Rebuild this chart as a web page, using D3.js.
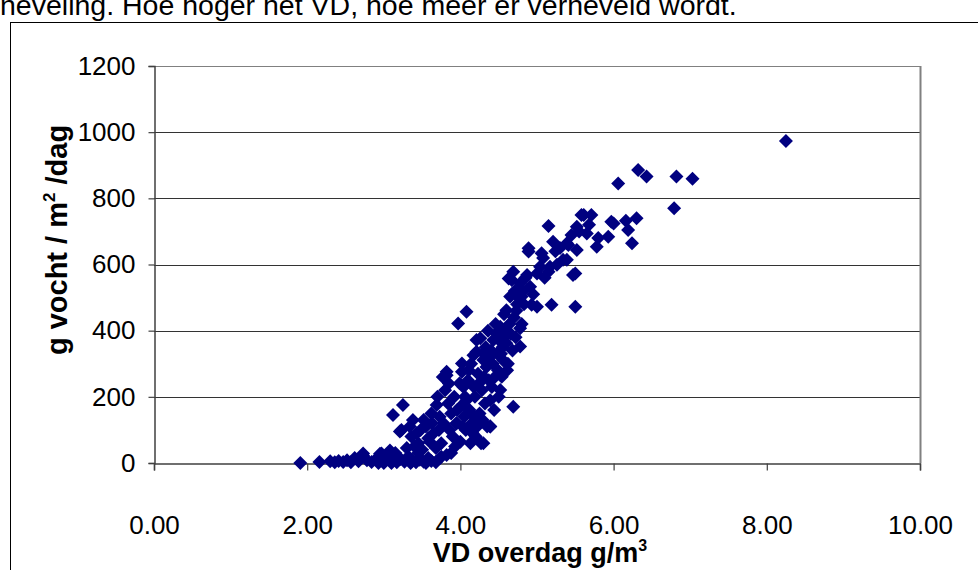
<!DOCTYPE html>
<html><head><meta charset="utf-8">
<script src="https://cdn.jsdelivr.net/npm/d3@7"></script>
<style>body{margin:0;background:#fff}svg{display:block}</style>
</head><body>
<svg id="c" width="978" height="570"></svg>
<script>
// ---- data ----
const kopTekst = "neveling. Hoe hoger het VD, hoe meer er verneveld wordt.";
const xTicks = [0, 2, 4, 6, 8, 10];
const yTicks = [0, 200, 400, 600, 800, 1000, 1200];
// [VD overdag g/m3, g vocht / m2 / dag]
const puntenLaag = [
 [1.91,0],[2.16,3],[2.30,5],[2.36,2],[2.41,6],[2.47,3],[2.52,8],[2.57,2],[2.62,15],[2.67,5],
 [2.73,22],[2.78,8],[2.84,3],[2.90,12],[2.95,28],[3.00,5],[3.03,18],[3.08,38],[3.12,8],[3.17,2],
 [3.22,12],[3.27,4],[3.32,20],[3.37,6],[3.42,2],[3.47,10],[3.52,4],[3.58,15],[3.62,6],[3.68,2],
 [3.00,0],[2.93,0],[3.10,0],[3.35,0],[3.55,0],[3.45,30],[3.30,45],[3.15,30],[3.75,19],[3.40,50],
 [2.73,29],[2.97,29],[3.60,64],[3.82,24],[3.73,14],[4.30,60],[3.50,40],[3.68,45],[3.88,30],[3.93,50]
];
const puntenMidden = [
 [3.12,145],[3.25,175],[3.23,100],[3.21,95],[3.34,110],[3.43,90],[3.38,130],[3.36,80],[3.52,130],
 [3.48,100],[3.55,110],[3.62,150],[3.65,90],[3.69,175],[3.73,140],[3.72,100],[3.75,60],[3.78,120],
 [3.80,220],[3.82,276],[3.82,265],[3.84,180],[3.86,100],[3.88,150],[3.90,80],[3.92,200],[3.95,120],
 [3.97,422],[3.99,241],[4.00,64],[4.00,170],[4.02,276],[4.02,301],[4.04,230],[4.05,140],[4.07,100],
 [4.08,457],[4.08,190],[4.10,250],[4.12,160],[4.14,300],[4.15,120],[4.17,231],[4.17,326],[4.19,200],
 [4.20,80],[4.21,336],[4.21,372],[4.23,270],[4.25,150],[4.26,377],[4.27,60],[4.28,220],[4.30,311],
 [4.30,331],[4.32,180],[4.34,290],[4.35,110],[4.37,250],[4.39,190],[4.39,110],[4.40,340],[4.42,300],
 [4.43,372],[4.45,260],[4.47,392],[4.48,330],[4.50,200],[4.52,412],[4.52,221],[4.54,261],[4.55,350],
 [4.56,310],[4.58,380],[4.60,362],[4.60,462],[4.62,300],[4.64,420],[4.68,340],[4.69,170],[4.70,440],
 [4.72,380],[4.74,480],[4.78,352],[4.78,407],[4.80,420],
 [3.45,60],[3.58,75],[3.63,120],[3.70,200],[3.77,260],[3.85,240],[3.96,160],[4.03,110],[4.06,200],
 [4.11,280],[4.13,60],[4.16,90],[4.18,140],[4.22,110],[4.24,240],[4.29,130],[4.31,260],[4.33,350],
 [4.36,400],[4.38,320],[4.41,230],[4.44,160],[4.46,420],[4.49,280],[4.51,370],[4.53,330],[4.57,450],
 [4.59,400],[4.61,280],[4.66,390],[3.95,120],[4.39,110]
];
const puntenHoog = [
 [4.63,558],[4.65,503],[4.69,578],[4.67,553],[4.71,520],[4.73,460],[4.76,500],[4.78,543],[4.78,503],
 [4.80,503],[4.82,520],[4.83,480],[4.85,560],[4.87,568],[4.89,649],[4.89,639],[4.91,533],[4.93,478],
 [4.95,510],[5.00,472],[5.00,573],[5.04,593],[5.06,634],[5.08,620],[5.10,560],[5.15,716],[5.15,578],
 [5.17,593],[5.19,478],[5.21,669],[5.24,640],[5.26,599],[5.30,650],[5.34,614],[5.39,664],[5.39,614],
 [5.41,659],[5.45,689],[5.47,568],[5.50,573],[5.50,472],[5.52,714],[5.52,644],[5.55,700],[5.58,750],
 [5.61,750],[5.65,694],[5.68,720],[5.71,750],[5.78,654],[5.80,680],[5.93,684],[5.97,729],[6.00,724],
 [6.06,845],[6.16,732],[6.19,704],[6.24,664],[6.30,740],[6.32,886],[6.43,866],[6.79,770],[6.82,866],
 [7.03,859],[8.25,973]
];
const allePunten = puntenLaag.concat(puntenMidden, puntenHoog);

// ---- layout ----
const svg = d3.select("#c");
const L = 154, R = 920, T = 66, B = 463;
const x = d3.scaleLinear().domain([0, 10]).range([L, R]);
const y = d3.scaleLinear().domain([0, 1200]).range([B, T]);
const font = "Arial, 'Liberation Sans', sans-serif";

svg.append("text").attr("x", 0).attr("y", 15)
  .attr("font-family", font).attr("font-size", 28.5).attr("fill", "#000").text(kopTekst);

svg.append("rect").attr("x", 10.5).attr("y", 22.5).attr("width", 990).attr("height", 570)
  .attr("fill", "#fff").attr("stroke", "#000").attr("stroke-width", 1);

// gridlines
svg.append("g").selectAll("line").data(yTicks.filter(d => d > 0)).join("line")
  .attr("x1", L).attr("x2", R)
  .attr("y1", d => Math.round(y(d)) + 0.5).attr("y2", d => Math.round(y(d)) + 0.5)
  .attr("stroke", d => d === 1200 ? "#808080" : "#333").attr("stroke-width", 1);
// right border of plot area
svg.append("line").attr("x1", R + 0.5).attr("x2", R + 0.5).attr("y1", T).attr("y2", B)
  .attr("stroke", "#808080").attr("stroke-width", 2);

// axes
const xAxis = d3.axisBottom(x).tickValues(xTicks).tickSize(7).tickPadding(45)
  .tickFormat(d3.format(".2f"));
const yAxis = d3.axisLeft(y).tickValues(yTicks).tickSize(6).tickPadding(13)
  .tickFormat(d3.format("d"));
const gx = svg.append("g").attr("transform", `translate(0,${B + 0.5})`).call(xAxis);
const gy = svg.append("g").attr("transform", `translate(${L + 0.5},0)`).call(yAxis);
[gx, gy].forEach(g => {
  g.select(".domain").attr("stroke", "#404040").attr("stroke-width", 1.5);
  g.selectAll(".tick line").attr("stroke", "#404040").attr("stroke-width", 1.2);
  g.selectAll(".tick text").attr("font-family", font).attr("font-size", 26).attr("fill", "#000");
});

// points
const diamond = "M0,-7L7,0L0,7L-7,0Z";
svg.append("g").selectAll("path").data(allePunten).join("path")
  .attr("d", diamond)
  .attr("transform", d => `translate(${x(d[0])},${y(d[1])})`)
  .attr("fill", "#000080");

// axis titles
const yt = svg.append("text").attr("transform", "translate(67,240) rotate(-90)")
  .attr("text-anchor", "middle").attr("font-family", font).attr("font-size", 29)
  .attr("font-weight", "bold").attr("fill", "#000");
yt.append("tspan").text("g vocht / m");
yt.append("tspan").attr("dy", -12).attr("font-size", 17).text("2");
yt.append("tspan").attr("dy", 12).text(" /dag");

const xt = svg.append("text").attr("x", 540).attr("y", 562)
  .attr("text-anchor", "middle").attr("font-family", font).attr("font-size", 27)
  .attr("font-weight", "bold").attr("fill", "#000");
xt.append("tspan").text("VD overdag g/m");
xt.append("tspan").attr("dy", -11).attr("font-size", 16).text("3");
</script>
</body></html>
